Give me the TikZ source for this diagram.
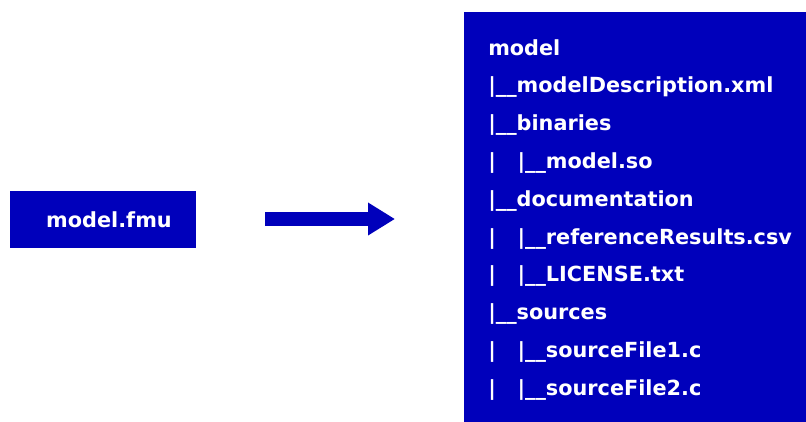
\documentclass[tikz,border=0pt]{standalone}
\usepackage{fontspec}
\setmainfont{DejaVu Sans}
\usepackage{tikz}
\usetikzlibrary{arrows.meta,positioning}
\definecolor{fmublue}{RGB}{0,0,187}

\begin{document}
\begin{tikzpicture}[
  x=0.75pt, y=-0.75pt,
  font=\fontsize{15.6}{18}\selectfont\bfseries,
  blk/.style={fill=fmublue, text=white, inner sep=0pt},
  ent/.style={text=white, anchor=base west, inner sep=0pt}
]
\useasboundingbox (0,0) rectangle (806,421);
% Left: the archive
\node[blk, minimum width=139.5pt, minimum height=42.75pt] (fmu) at (103,219.5) {\hspace*{9pt}model.fmu};
% Arrow
\coordinate (ar0) at (265,219);
\coordinate (ar1) at (395,219);
\draw[fmublue, line width=10.5pt, -{Triangle[length=20.25pt, width=23.25pt]}] (ar0) -- (ar1);
% Right: unpacked tree
\node[blk, minimum width=256.5pt, minimum height=312pt] (tree) at (635,220) {};
\foreach \i/\t in {1/model, 2/{|\_\_modelDescription.xml}, 3/{|\_\_binaries},
  4/{|\ \ \ |\_\_model.so}, 5/{|\_\_documentation}, 6/{|\ \ \ |\_\_referenceResults.csv},
  7/{|\ \ \ |\_\_LICENSE.txt}, 8/{|\_\_sources}, 9/{|\ \ \ |\_\_sourceFile1.c},
  10/{|\ \ \ |\_\_sourceFile2.c}} {
  \node[ent] (ln\i) at (488,{55+(\i-1)*37.8}) {\t};
}
\end{tikzpicture}
\end{document}
